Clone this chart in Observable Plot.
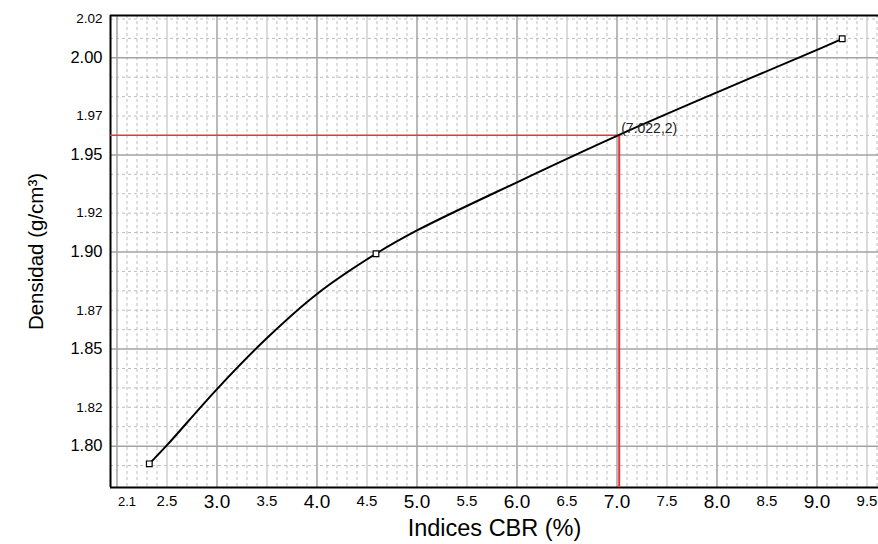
<!DOCTYPE html>
<html>
<head>
<meta charset="utf-8">
<script src="https://cdn.jsdelivr.net/npm/d3@7"></script>
<script src="https://cdn.jsdelivr.net/npm/@observablehq/plot@0.6"></script>
<style>
  html, body { margin: 0; padding: 0; background: white; }
</style>
</head>
<body>
<div id="chart"></div>
<script>
// Curve
const curveX = [2.323, 2.5, 3.0, 3.5, 4.0, 4.59, 5.0, 6.0, 7.0, 8.0, 9.0, 9.252];
const curveY = [1.7909, 1.8005, 1.8294, 1.8557, 1.8784, 1.8991, 1.9111, 1.9359, 1.9598, 1.9822, 2.0041, 2.0098];
// Measured points (markers)
const pointX = [2.323, 4.59, 9.252];
const pointY = [1.7909, 1.8991, 2.0098];
// Annotated point
const markX = 7.022;
const markY = 1.9601;
const markLabel = "(7.022,2)";
// Tick labels
const xTickSmall = [2.1];
const xTickHalf = [2.5, 3.5, 4.5, 5.5, 6.5, 7.5, 8.5, 9.5];
const xTickInt = [3, 4, 5, 6, 7, 8, 9];
const yTickMajor = [2.00, 1.95, 1.90, 1.85, 1.80];
const yTickMinor = [2.02, 1.97, 1.92, 1.87, 1.82];

const xDomain = [1.935, 9.615];
const yDomain = [1.7787, 2.0218];

const curve = curveX.map((x, i) => ({x, y: curveY[i]}));
const points = pointX.map((x, i) => ({x, y: pointY[i]}));

const gridXMinor = d3.range(20, 97).filter(d => d % 5 !== 0).map(d => d / 10);
const gridXHalf = d3.range(25, 97, 10).map(d => d / 10);
const gridXInt = d3.range(2, 10);
const gridYMinor = d3.range(179, 203).filter(d => d % 5 !== 0).map(d => d / 100);
const gridYMajor = d3.range(180, 203, 5).map(d => d / 100);

const chart = Plot.plot({
  width: 878,
  height: 544,
  marginTop: 15,
  marginBottom: 57,
  marginLeft: 110,
  marginRight: 0,
  x: {domain: xDomain, label: null},
  y: {domain: yDomain, label: null},
  style: {fontFamily: "'Liberation Sans', Arial, sans-serif", background: "white", color: "black"},
  marks: [
    Plot.ruleX(gridXMinor, {stroke: "#bdbdbd", strokeWidth: 1, strokeDasharray: "3,3"}),
    Plot.ruleY(gridYMinor, {stroke: "#bdbdbd", strokeWidth: 1, strokeDasharray: "3,3"}),
    Plot.ruleX(gridXHalf, {stroke: "#cfcfcf", strokeWidth: 1.5}),
    Plot.ruleX(gridXInt, {stroke: "#a3a3a3", strokeWidth: 1.5}),
    Plot.ruleY(gridYMajor, {stroke: "#a3a3a3", strokeWidth: 1.5}),
    // frame
    Plot.ruleX([xDomain[0]], {stroke: "black", strokeWidth: 2}),
    Plot.ruleY([yDomain[0], yDomain[1]], {stroke: "black", strokeWidth: 2}),
    // red guide lines
    Plot.ruleY([markY], {x1: xDomain[0], x2: markX, stroke: "#ee3333", strokeWidth: 1.5}),
    Plot.ruleX([markX], {y1: yDomain[0], y2: markY, stroke: "#ee3333", strokeWidth: 2}),
    // curve
    Plot.line(curve, {x: "x", y: "y", curve: "catmull-rom", stroke: "black", strokeWidth: 2}),
    Plot.dot(points, {x: "x", y: "y", symbol: "square", r: 3.2, stroke: "black", fill: "white", strokeWidth: 1.2}),
    Plot.text([markLabel], {x: markX, y: markY, text: d => d, textAnchor: "start", dx: 2, dy: -7, fontSize: 14, fill: "#222"}),
    // axes
    Plot.axisX(xTickSmall, {tickSize: 0, tickPadding: 9, fontSize: 13, tickFormat: d => d.toFixed(1), label: null}),
    Plot.axisX(xTickHalf, {tickSize: 0, tickPadding: 8, fontSize: 15, tickFormat: d => d.toFixed(1), label: null}),
    Plot.axisX(xTickInt, {tickSize: 0, tickPadding: 7, fontSize: 19, tickFormat: d => d.toFixed(1), label: null}),
    Plot.axisY(yTickMajor, {tickSize: 0, tickPadding: 8, fontSize: 16.5, tickFormat: d => d.toFixed(2), label: null}),
    Plot.axisY(yTickMinor, {tickSize: 0, tickPadding: 8, fontSize: 13.5, tickFormat: d => d.toFixed(2), label: null}),
    // axis titles
    Plot.text(["Indices CBR (%)"], {frameAnchor: "bottom", textAnchor: "middle", lineAnchor: "middle", dy: 41, text: d => d, fontSize: 23.5}),
    Plot.text(["Densidad (g/cm³)"], {frameAnchor: "left", textAnchor: "middle", lineAnchor: "middle", rotate: -90, dx: -74, text: d => d, fontSize: 20.5})
  ]
});
document.getElementById("chart").appendChild(chart);
</script>
</body>
</html>
